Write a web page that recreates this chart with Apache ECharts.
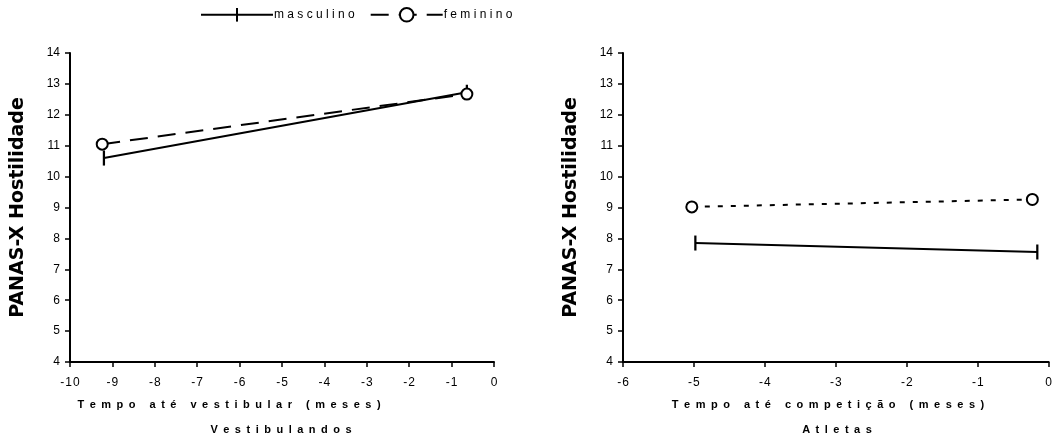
<!DOCTYPE html>
<html>
<head>
<meta charset="utf-8">
<script src="https://cdn.jsdelivr.net/npm/echarts@6/dist/echarts.min.js"></script>
<style>
  html, body { margin: 0; padding: 0; background: #fff; }
  #chart { width: 1055px; height: 440px; }
</style>
</head>
<body>
<div id="chart"></div>
<script>
// Vestibulandos: [tempo (meses), PANAS-X Hostilidade]
var vestMasculino = [[-9.2, 10.6], [-0.64, 12.73]];
var vestFeminino = [[-9.24, 11.05], [-0.64, 12.67]];
// Atletas
var atlMasculino = [[-4.98, 7.85], [-0.16, 7.56]];
var atlFeminino = [[-5.03, 9.02], [-0.23, 9.26]];

var seriesNames = ['masculino', 'feminino'];
var xTitles = ['Tempo até vestibular (meses)', 'Tempo até competição (meses)'];
var panelTitles = ['Vestibulandos', 'Atletas'];
var yTitle = 'PANAS-X Hostilidade';

// spaced lettering like the original figure
function spaced(s, sep) {
    return s.split('').join(sep || ' ');
}

var chartDom = document.getElementById('chart');
var myChart = echarts.init(chartDom);
var option;

var font = 'Liberation Sans, Arial, sans-serif';
var EN = '\u2002';
var HAIR = '\u200A';

// vertical bar marker; the empty corner points keep the box square
var barSymbol = 'path://M0,0L0,0M8.5,0h3v20h-3zM20,20L20,20';

function xAxisOf(idx, min) {
    return {
        type: 'value',
        gridIndex: idx,
        min: min,
        max: 0,
        interval: 1,
        axisLine: {onZero: false, lineStyle: {color: '#000', width: 2}},
        axisTick: {show: true, length: 5, lineStyle: {color: '#000', width: 1.5}},
        axisLabel: {
            fontFamily: font, fontSize: 12, color: '#000', margin: 15,
            formatter: function (v) { return spaced(String(v), HAIR); }
        },
        splitLine: {show: false}
    };
}

function yAxisOf(idx) {
    return {
        type: 'value',
        gridIndex: idx,
        min: 4,
        max: 14,
        interval: 1,
        name: yTitle,
        nameLocation: 'middle',
        nameGap: 42,
        nameRotate: 90,
        nameTextStyle: {fontFamily: 'DejaVu Sans, sans-serif', fontSize: 19, fontWeight: 'bold', color: '#000'},
        axisLine: {show: true, onZero: false, lineStyle: {color: '#000', width: 2}},
        axisTick: {show: true, length: 5, lineStyle: {color: '#000', width: 1.5}},
        axisLabel: {fontFamily: font, fontSize: 12, color: '#000', margin: 10},
        splitLine: {show: false}
    };
}

var mascStyle = {
    symbol: barSymbol,
    symbolSize: 15,
    itemStyle: {color: '#000'},
    lineStyle: {color: '#000', width: 2, type: 'solid'}
};

var femStyle = {
    symbol: 'circle',
    symbolSize: 11,
    itemStyle: {color: '#fff', borderColor: '#000', borderWidth: 2}
};

function titleText(x, y, text) {
    return {
        type: 'text', x: x, y: y,
        style: {text: text, font: 'bold 11px ' + font, fill: '#000', align: 'center', verticalAlign: 'middle'}
    };
}

option = {
    animation: false,
    backgroundColor: '#fff',
    legend: {
        top: 2,
        left: 195,
        itemWidth: 72,
        itemHeight: 17,
        itemGap: 15,
        data: seriesNames,
        formatter: function (name) { return spaced(name); },
        textStyle: {fontFamily: font, fontSize: 12, color: '#000', padding: [0, 0, 4, -4]}
    },
    grid: [
        {left: 70, right: 561, top: 53, bottom: 78},
        {left: 623, right: 3, top: 53, bottom: 78}
    ],
    graphic: [
        titleText(229, 405, spaced(xTitles[0], EN)),
        titleText(828, 405, spaced(xTitles[1], EN)),
        titleText(281, 430, spaced(panelTitles[0], EN)),
        titleText(837, 430, spaced(panelTitles[1], EN))
    ],
    xAxis: [xAxisOf(0, -10), xAxisOf(1, -6)],
    yAxis: [yAxisOf(0), yAxisOf(1)],
    series: [
        Object.assign({
            name: seriesNames[0], type: 'line', xAxisIndex: 0, yAxisIndex: 0, z: 2,
            data: vestMasculino
        }, mascStyle),
        Object.assign({
            name: seriesNames[1], type: 'line', xAxisIndex: 0, yAxisIndex: 0, z: 3,
            data: vestFeminino,
            lineStyle: {color: '#000', width: 2, type: [18, 10]}
        }, femStyle),
        Object.assign({
            name: seriesNames[0], type: 'line', xAxisIndex: 1, yAxisIndex: 1, z: 2,
            data: atlMasculino
        }, mascStyle),
        Object.assign({
            name: seriesNames[1], type: 'line', xAxisIndex: 1, yAxisIndex: 1, z: 3,
            data: atlFeminino,
            lineStyle: {color: '#000', width: 2, type: [5, 8]}
        }, femStyle)
    ]
};

option && myChart.setOption(option);
</script>
</body>
</html>
